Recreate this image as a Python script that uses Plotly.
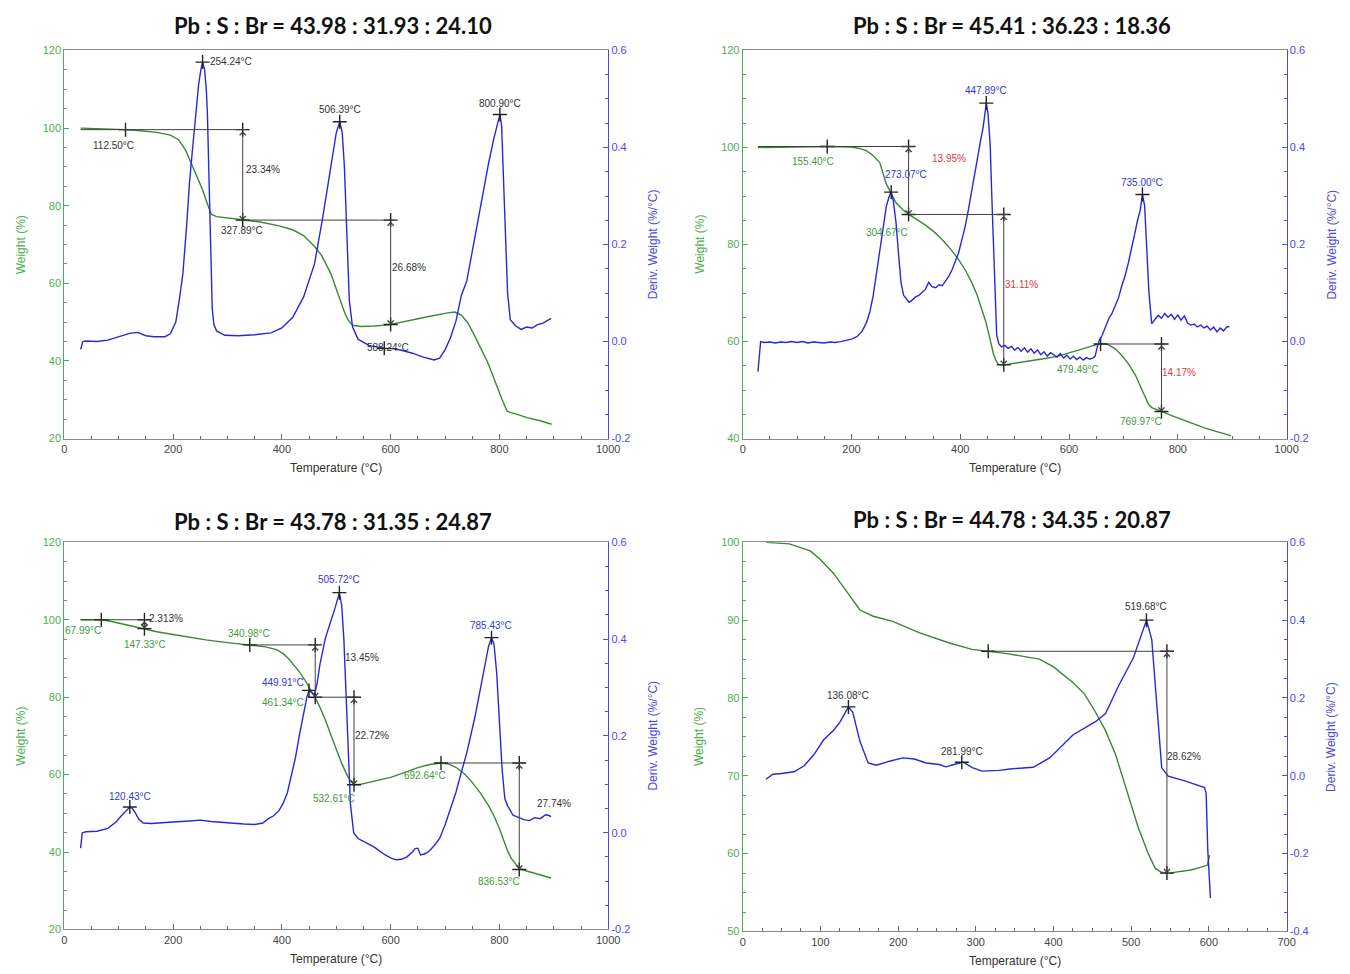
import plotly.graph_objects as go

# ------------------------------------------------------------------ data
titles = [
    "Pb : S : Br = 43.98 : 31.93 : 24.10",
    "Pb : S : Br = 45.41 : 36.23 : 18.36",
    "Pb : S : Br = 43.78 : 31.35 : 24.87",
    "Pb : S : Br = 44.78 : 34.35 : 20.87",
]

# panel 1
p1_tga_T = [30, 60, 90, 112.5, 140, 170, 195, 210, 223, 238, 254, 263, 270, 280, 300, 328, 360, 395, 420, 440,
            460, 473, 490, 504, 515, 522, 530, 545, 570, 596, 630, 668, 705, 718, 730, 742, 754, 766, 778, 787,
            796, 805, 814, 820, 827, 851, 875, 896]
p1_tga_W = [100, 99.9, 99.8, 99.6, 99.3, 98.9, 98.2, 97.0, 94.3, 89.2, 84.2, 80.5, 77.8, 77.2, 76.9, 76.4, 75.8, 74.8,
            73.8, 72.3, 69.5, 67.2, 62.5, 57.0, 52.6, 50.5, 49.2, 48.9, 49.0, 49.3, 50.2, 51.4, 52.4, 52.6, 51.8, 49.8,
            46.6, 43.2, 39.8, 36.6, 33.1, 30.0, 27.1, 26.7, 26.5, 25.4, 24.6, 23.7]
p1_dtg_T = [30, 34, 40, 60, 80, 100, 120, 135, 150, 165, 185, 195, 205, 212, 218, 225, 230, 236, 242, 247, 251, 254.2,
            258, 261, 263, 265, 267, 270, 272, 275, 280, 295, 320, 350, 380, 400, 420, 440, 460, 475, 490, 500, 506.4,
            511, 515, 519, 524, 530, 540, 560, 575, 588, 605, 620, 640, 660, 680, 690, 700, 710, 720, 730, 740, 750,
            760, 770, 780, 790, 796, 800.9, 804, 807, 811, 815, 820, 830, 840, 850, 860, 870, 880, 890, 895]
p1_dtg_D = [-0.016, 0.0, 0.001, 0.0, 0.003, 0.010, 0.017, 0.019, 0.012, 0.010, 0.010, 0.016, 0.040, 0.090, 0.140,
            0.240, 0.325, 0.400, 0.474, 0.530, 0.560, 0.576, 0.560, 0.520, 0.474, 0.380, 0.270, 0.140, 0.067, 0.035,
            0.022, 0.013, 0.012, 0.014, 0.018, 0.028, 0.050, 0.092, 0.160, 0.255, 0.360, 0.430, 0.453, 0.430, 0.360,
            0.230, 0.085, 0.030, 0.005, -0.008, -0.012, -0.014, -0.015, -0.018, -0.024, -0.032, -0.038, -0.034,
            -0.017, 0.008, 0.042, 0.095, 0.125, 0.185, 0.252, 0.313, 0.367, 0.420, 0.450, 0.468, 0.445, 0.350, 0.200,
            0.100, 0.045, 0.032, 0.025, 0.030, 0.028, 0.035, 0.038, 0.044, 0.048]

# panel 2
p2_tga_T = [28, 60, 100, 155.4, 200, 215, 228, 240, 252, 264, 273, 282, 294, 305, 320, 336, 352, 367, 382, 397, 410,
            421, 431, 440, 447, 452, 457, 461, 466, 470, 480, 500, 522, 550, 576, 600, 619, 640, 655, 665, 673, 685,
            698, 710, 722, 732, 740, 746, 752, 760, 770, 790, 813, 830, 849, 870, 898]
p2_tga_W = [100, 100.1, 100.1, 100.2, 100.1, 99.8, 99.3, 98.3, 96.9, 92.5, 90.6, 88.6, 87.2, 86.2, 85.2, 84.0, 82.6,
            81.0, 79.1, 76.9, 74.6, 72.2, 69.6, 66.7, 64.1, 61.8, 59.5, 57.5, 56.0, 55.3, 55.2, 55.5, 55.9, 56.4, 56.9,
            57.6, 58.3, 59.0, 59.5, 59.6, 59.3, 58.5, 57.0, 55.3, 53.1, 50.6, 48.4, 47.1, 46.4, 46.0, 45.6, 44.7, 43.7,
            43.0, 42.2, 41.5, 40.6]
p2_dtg_T = [28, 30, 33, 40, 50, 60, 70, 80, 90, 100, 110, 120, 130, 140, 150, 160, 170, 180, 190, 200, 210, 220, 228,
            234, 240, 246, 252, 258, 264, 269, 273, 277, 282, 287, 291, 296, 302, 306, 312, 318, 324, 330, 336, 342,
            348, 355, 361, 367, 373, 379, 385, 391, 397, 403, 409, 415, 421, 427, 433, 438, 442, 445, 448, 451, 455,
            458, 461, 464, 467, 471, 476, 482, 488, 494, 500, 506, 512, 518, 524, 530, 536, 542, 548, 554, 560, 566,
            572, 578, 584, 590, 596, 602, 608, 614, 620, 626, 632, 638, 644, 648, 652, 656, 661, 667, 673, 679, 685,
            691, 697, 703, 709, 715, 721, 726, 731, 735, 739, 743, 747, 752, 758, 764, 770, 776, 782, 788, 794, 800,
            806, 812, 818, 824, 830, 836, 842, 848, 854, 860, 866, 872, 878, 884, 890, 895]
p2_dtg_D = [-0.062, -0.030, 0.0, -0.002, -0.001, -0.003, -0.001, -0.002, 0.0, -0.002, 0.0, -0.003, -0.001, -0.002,
            -0.003, -0.001, -0.002, 0.0, 0.002, 0.005, 0.010, 0.022, 0.040, 0.062, 0.095, 0.140, 0.189, 0.235, 0.278,
            0.298, 0.308, 0.290, 0.244, 0.175, 0.122, 0.095, 0.085, 0.081, 0.086, 0.092, 0.095, 0.102, 0.108, 0.122,
            0.113, 0.111, 0.117, 0.115, 0.125, 0.135, 0.148, 0.165, 0.183, 0.210, 0.237, 0.272, 0.312, 0.350, 0.386,
            0.418, 0.441, 0.465, 0.4915, 0.470, 0.407, 0.300, 0.203, 0.100, 0.013, -0.005, -0.011, -0.008, -0.014,
            -0.010, -0.018, -0.012, -0.020, -0.013, -0.022, -0.015, -0.024, -0.017, -0.027, -0.021, -0.030, -0.023,
            -0.027, -0.032, -0.025, -0.034, -0.028, -0.036, -0.030, -0.037, -0.032, -0.038, -0.033, -0.036, -0.034,
            -0.030, -0.011, 0.003, 0.013, 0.030, 0.047, 0.058, 0.074, 0.090, 0.115, 0.135, 0.162, 0.190, 0.223, 0.250,
            0.271, 0.303, 0.280, 0.190, 0.100, 0.037, 0.045, 0.054, 0.048, 0.058, 0.050, 0.056, 0.046, 0.055, 0.044,
            0.053, 0.038, 0.034, 0.036, 0.030, 0.034, 0.028, 0.032, 0.024, 0.030, 0.020, 0.028, 0.022, 0.030, 0.031]

# panel 3
p3_tga_T = [30, 60, 68, 85, 100, 120, 135, 147.3, 170, 200, 230, 260, 300, 341, 370, 390, 402, 412, 422, 432, 442, 452,
            461.3, 470, 480, 490, 500, 510, 520, 527, 532.6, 545, 560, 580, 600, 625, 650, 672, 692.6, 707, 720, 735,
            750, 765, 780, 790, 800, 808, 815, 822, 830, 837, 850, 870, 895]
p3_tga_W = [100, 100, 100, 99.6, 99.1, 98.4, 97.9, 97.6, 96.9, 96.2, 95.5, 94.8, 94.1, 93.5, 93.0, 92.3, 91.3, 90.0,
            88.4, 86.6, 84.5, 82.2, 79.9, 77.4, 74.1, 70.3, 66.4, 62.9, 59.8, 58.2, 57.4, 57.5, 58.0, 58.6, 59.3, 60.5,
            61.8, 62.6, 63.0, 62.7, 61.9, 60.3, 58.0, 55.2, 52.0, 49.3, 46.1, 43.0, 40.3, 38.3, 36.9, 35.7, 35.1, 34.3,
            33.3]
p3_dtg_T = [30, 33, 40, 60, 80, 95, 105, 115, 120.4, 125, 130, 137, 145, 160, 180, 200, 230, 250, 270, 300, 330, 350,
            365, 375, 385, 395, 402, 410, 418, 425, 432, 440, 446, 449.9, 455, 460, 465, 470, 480, 490, 498, 505.7,
            510, 514, 518, 522, 526, 532, 540, 550, 560, 570, 580, 590, 600, 610, 620, 630, 640, 645, 650, 655, 662,
            670, 680, 690, 700, 710, 720, 730, 740, 755, 770, 780, 785.4, 790, 795, 800, 805, 810, 815, 825, 835, 845,
            855, 865, 875, 885, 890, 895]
p3_dtg_D = [-0.032, 0.0, 0.002, 0.003, 0.009, 0.022, 0.035, 0.048, 0.053, 0.050, 0.042, 0.028, 0.020, 0.019, 0.021,
            0.022, 0.024, 0.026, 0.023, 0.020, 0.018, 0.017, 0.020, 0.029, 0.035, 0.046, 0.060, 0.082, 0.120, 0.155,
            0.200, 0.246, 0.280, 0.294, 0.290, 0.285, 0.310, 0.348, 0.402, 0.436, 0.465, 0.496, 0.470, 0.400, 0.280,
            0.150, 0.060, 0.0, -0.012, -0.018, -0.024, -0.030, -0.038, -0.046, -0.052, -0.056, -0.055, -0.050, -0.040,
            -0.033, -0.032, -0.046, -0.044, -0.039, -0.027, -0.012, 0.016, 0.048, 0.083, 0.125, 0.165, 0.239, 0.327,
            0.385, 0.403, 0.390, 0.330, 0.233, 0.130, 0.070, 0.056, 0.036, 0.031, 0.027, 0.025, 0.031, 0.029, 0.037,
            0.036, 0.033]

# panel 4
p4_tga_T = [30, 60, 87, 100, 117, 128, 138, 151, 168, 193, 227, 265, 295, 318, 340, 382, 400, 425, 440, 454, 467, 480,
            497, 509, 522, 531, 539, 548, 577, 598, 601]
p4_tga_W = [100, 99.8, 98.9, 97.8, 96.0, 94.5, 93.0, 91.3, 90.5, 89.85, 88.4, 87.1, 86.25, 85.95, 85.7, 85.0, 84.0,
            82.0, 80.5, 78.2, 75.8, 72.7, 67.2, 63.4, 60.0, 58.1, 57.6, 57.5, 57.9, 58.5, 59.8]
p4_dtg_T = [30, 34, 38.7, 50, 66, 78.8, 91.5, 104, 117, 125.6, 136, 141.6, 151, 161.5, 172, 189, 206, 221, 236, 253,
            261.6, 272, 282, 284, 295.5, 308, 330, 346.5, 374, 395, 425, 454, 467, 484, 503, 514, 519.7, 526.5, 533,
            539.3, 547.7, 569, 594.4, 596.5, 598.6, 602]
p4_dtg_D = [-0.009, -0.002, 0.004, 0.006, 0.0104, 0.025, 0.054, 0.092, 0.117, 0.139, 0.177, 0.164, 0.088, 0.033,
            0.027, 0.0375, 0.046, 0.043, 0.033, 0.029, 0.023, 0.029, 0.033, 0.035, 0.021, 0.012, 0.014, 0.018, 0.022,
            0.046, 0.105, 0.139, 0.160, 0.232, 0.304, 0.367, 0.400, 0.350, 0.190, 0.0205, -0.001, -0.013, -0.030,
            -0.045, -0.191, -0.314]

# markers (+) on weight axis and on derivative axis, per panel
p_wmarks = [
    [(112.5, 99.6), (328, 99.6), (328, 76.3), (600, 76.3), (600, 49.4)],
    [(155.4, 100.2), (305, 100.2), (305, 86.2), (480, 86.2), (480, 55.2), (658, 59.5), (770, 59.5), (770, 45.6)],
    [(68, 100), (147.3, 100), (147.3, 97.7), (341, 93.5), (461.3, 93.5), (461.3, 80.0), (532.6, 80.0),
     (532.6, 57.4), (692.6, 63.0), (836.5, 63.0), (836.5, 35.5)],
    [(316, 86.0), (546, 86.0), (546, 57.5)],
]
p_dmarks = [
    [(254.24, 0.576), (506.39, 0.453), (800.90, 0.468), (588.24, -0.014)],
    [(273.07, 0.308), (447.89, 0.4915), (735.00, 0.303)],
    [(120.43, 0.053), (449.91, 0.294), (505.72, 0.496), (785.43, 0.403)],
    [(136.08, 0.177), (281.99, 0.035), (519.68, 0.400)],
]
# horizontal step lines (T start, T end, weight)
p_hlines = [
    [(30, 335, 99.6), (328, 606, 76.3)],
    [(28, 316, 100.2), (305, 488, 86.2), (658, 776, 59.5)],
    [(30, 153, 100.0), (341, 468, 93.5), (461.3, 540, 80.0), (692.6, 845, 63.0)],
    [(316, 553, 86.0)],
]
# double arrows (T, top weight, bottom weight)
p_arrows = [
    [(328, 99.6, 76.3), (600, 76.3, 49.4)],
    [(305, 100.2, 86.2), (480, 86.2, 55.2), (770, 59.5, 45.6)],
    [(147.3, 100.0, 97.7), (461.3, 93.5, 80.0), (532.6, 80.0, 57.4), (836.5, 63.0, 35.5)],
    [(546, 86.0, 57.5)],
]
# labels: (T, weight, text, colour key, x-anchor)
p_labels = [
    [(265, 117.2, "254.24°C", "k", "left"), (506, 104.9, "506.39°C", "k", "center"),
     (801, 106.4, "800.90°C", "k", "center"), (91, 95.6, "112.50°C", "k", "center"),
     (331, 89.4, "23.34%", "k", "left"), (326, 73.5, "327.89°C", "k", "center"),
     (599, 64.2, "26.68%", "k", "left"), (595, 43.5, "588.24°C", "k", "center")],
    [(129, 97.1, "155.40°C", "g", "center"), (301, 94.5, "273.07°C", "b", "center"),
     (379, 97.8, "13.95%", "r", "center"), (447, 111.8, "447.89°C", "b", "center"),
     (266, 82.5, "304.67°C", "g", "center"), (512, 71.8, "31.11%", "r", "center"),
     (734, 92.7, "735.00°C", "b", "center"), (617, 54.2, "479.49°C", "g", "center"),
     (803, 53.7, "14.17%", "r", "center"), (733, 43.5, "769.97°C", "g", "center")],
    [(35, 97.1, "67.99°C", "g", "center"), (148, 93.7, "147.33°C", "g", "center"),
     (187, 100.2, "2.313%", "k", "center"), (340, 96.5, "340.98°C", "g", "center"),
     (402, 83.8, "449.91°C", "b", "center"), (402, 78.7, "461.34°C", "g", "center"),
     (505.5, 110.3, "505.72°C", "b", "center"), (547, 90.2, "13.45%", "k", "center"),
     (565, 70.0, "22.72%", "k", "center"), (496, 53.9, "532.61°C", "g", "center"),
     (664, 59.7, "692.64°C", "g", "center"), (785, 98.5, "785.43°C", "b", "center"),
     (900, 52.6, "27.74%", "k", "center"), (799, 32.5, "836.53°C", "g", "center"),
     (121, 54.4, "120.43°C", "b", "center")],
    [(567.6, 72.5, "28.62%", "k", "center"), (519.5, 91.7, "519.68°C", "k", "center"),
     (135.6, 80.3, "136.08°C", "k", "center"), (282, 73.1, "281.99°C", "k", "center")],
]

# ------------------------------------------------------------------ layout helpers
FW, FH = 1350, 974
GREEN_LINE = "#3c8636"
GREEN_AX = "#4caf50"
BLUE_LINE = "#2828d8"
BLUE_AX = "#4a4ae6"
TXT = {"k": "#333333", "g": "#3f9a3f", "b": "#3535d8", "r": "#e8343a"}


def px(x):
    return x / FW


def py(y):
    return 1 - y / FH


panels = [
    dict(xd=(62, 612), yd=(45, 438), xr=(0, 1000), xdt=200, xmn=50, wr=(20, 120), wdt=20, wmn=5,
         dr=(-0.2, 0.6), ddt=0.2, dmn=0.05, title_y=20, xt_y=468),
    dict(xd=(748, 1298), yd=(45, 438), xr=(0, 1000), xdt=200, xmn=50, wr=(40, 120), wdt=20, wmn=5,
         dr=(-0.2, 0.6), ddt=0.2, dmn=0.05, title_y=20, xt_y=468),
    dict(xd=(62, 612), yd=(543, 935), xr=(0, 1000), xdt=200, xmn=50, wr=(20, 120), wdt=20, wmn=5,
         dr=(-0.2, 0.6), ddt=0.2, dmn=0.05, title_y=522, xt_y=965),
    dict(xd=(748, 1298), yd=(543, 937), xr=(0, 700), xdt=100, xmn=25, wr=(50, 100), wdt=10, wmn=2.5,
         dr=(-0.4, 0.6), ddt=0.2, dmn=0.05, title_y=520, xt_y=967),
]
tga = [(p1_tga_T, p1_tga_W), (p2_tga_T, p2_tga_W), (p3_tga_T, p3_tga_W), (p4_tga_T, p4_tga_W)]
dtg = [(p1_dtg_T, p1_dtg_D), (p2_dtg_T, p2_dtg_D), (p3_dtg_T, p3_dtg_D), (p4_dtg_T, p4_dtg_D)]

fig = go.Figure()
layout = dict(width=FW, height=FH, margin=dict(l=0, r=0, t=0, b=0), paper_bgcolor="white",
              plot_bgcolor="white", showlegend=False)
annotations = []
shapes = []

TICKFONT = dict(family="Liberation Sans, Arial", size=11)

for i, p in enumerate(panels):
    xn = i + 1
    yl = 2 * i + 1
    yr = 2 * i + 2
    xid = "x" if xn == 1 else f"x{xn}"
    ylid = "y" if yl == 1 else f"y{yl}"
    yrid = f"y{yr}"
    xkey = "xaxis" if xn == 1 else f"xaxis{xn}"
    ylkey = "yaxis" if yl == 1 else f"yaxis{yl}"
    yrkey = f"yaxis{yr}"
    xdom = [px(p["xd"][0]), px(p["xd"][1])]
    ydom = [py(p["yd"][1]), py(p["yd"][0])]

    nd = int(round((p["dr"][1] - p["dr"][0]) / p["ddt"]))
    dvals = [round(p["dr"][0] + k * p["ddt"], 6) for k in range(nd + 1)]
    dtext = [("%.1f" % v).replace("−", "-") for v in dvals]

    layout[xkey] = dict(domain=xdom, anchor=ylid, range=list(p["xr"]), tickmode="linear", tick0=0,
                        dtick=p["xdt"], ticks="inside", ticklen=5, tickcolor="#666", showline=True,
                        linecolor="#8a8a8a", linewidth=1, mirror=True, showgrid=False, zeroline=False,
                        tickfont=dict(TICKFONT, color="#444"),
                        minor=dict(dtick=p["xmn"], ticks="inside", ticklen=3, tickcolor="#666"))
    layout[ylkey] = dict(domain=ydom, anchor=xid, range=list(p["wr"]), tickmode="linear", tick0=0,
                         dtick=p["wdt"], ticks="inside", ticklen=5, tickcolor=GREEN_AX, showline=True,
                         linecolor=GREEN_AX, linewidth=1, showgrid=False, zeroline=False,
                         tickfont=dict(TICKFONT, color=GREEN_AX),
                         minor=dict(tick0=0, dtick=p["wmn"], ticks="inside", ticklen=3, tickcolor=GREEN_AX))
    layout[yrkey] = dict(overlaying=ylid, anchor=xid, side="right", range=list(p["dr"]), tickmode="array",
                         tickvals=dvals, ticktext=dtext, ticks="inside", ticklen=5,
                         tickcolor=BLUE_AX, showline=True, linecolor=BLUE_AX, linewidth=1, showgrid=False,
                         zeroline=False, tickfont=dict(TICKFONT, color=BLUE_AX),
                         minor=dict(tickmode="linear", tick0=0, dtick=p["dmn"], ticks="inside", ticklen=3,
                                    tickcolor=BLUE_AX))

    T, Wt = tga[i]
    fig.add_trace(go.Scatter(x=T, y=Wt, mode="lines", line=dict(color=GREEN_LINE, width=1.4),
                             xaxis=xid, yaxis=ylid, hoverinfo="skip"))
    T, D = dtg[i]
    fig.add_trace(go.Scatter(x=T, y=D, mode="lines", line=dict(color=BLUE_LINE, width=1.4),
                             xaxis=xid, yaxis=yrid, hoverinfo="skip"))

    for (t0, t1, w) in p_hlines[i]:
        shapes.append(dict(type="line", xref=xid, yref=ylid, x0=t0, x1=t1, y0=w, y1=w,
                           line=dict(color="#404040", width=1)))
    for (t, wt, wb) in p_arrows[i]:
        annotations.append(dict(x=t, y=wb, ax=t, ay=wt, xref=xid, yref=ylid, axref=xid, ayref=ylid,
                                text="", showarrow=True, arrowhead=4, startarrowhead=4,
                                arrowside="end+start", arrowsize=1.2, startarrowsize=1.2,
                                arrowwidth=1, arrowcolor="#404040", standoff=0, startstandoff=0))
    wm = p_wmarks[i]
    fig.add_trace(go.Scatter(x=[m[0] for m in wm], y=[m[1] for m in wm], mode="markers",
                             marker=dict(symbol="cross-thin", size=10, line=dict(color="#222", width=1.4)),
                             xaxis=xid, yaxis=ylid, hoverinfo="skip"))
    dm = p_dmarks[i]
    fig.add_trace(go.Scatter(x=[m[0] for m in dm], y=[m[1] for m in dm], mode="markers",
                             marker=dict(symbol="cross-thin", size=10, line=dict(color="#222", width=1.4)),
                             xaxis=xid, yaxis=yrid, hoverinfo="skip"))
    for (t, w, txt, c, anc) in p_labels[i]:
        annotations.append(dict(x=t, y=w, xref=xid, yref=ylid, text=txt, showarrow=False, xanchor=anc,
                                yanchor="middle", font=dict(family="Liberation Sans, Arial", size=10,
                                                            color=TXT[c])))

    cx = (p["xd"][0] + p["xd"][1]) / 2
    cy = (p["yd"][0] + p["yd"][1]) / 2
    annotations.append(dict(x=px(cx - 3), y=py(p["title_y"]), xref="paper", yref="paper",
                            text=f"<b>{titles[i]}</b>", showarrow=False, xanchor="center", yanchor="middle",
                            font=dict(family="Lato", size=22, color="#111")))
    annotations.append(dict(x=px(cx), y=py(p["xt_y"]), xref="paper", yref="paper", text="Temperature (°C)",
                            showarrow=False, xanchor="center", yanchor="middle",
                            font=dict(family="Liberation Sans, Arial", size=12, color="#333")))
    annotations.append(dict(x=px(p["xd"][0] - 44), y=py(cy), xref="paper", yref="paper", text="Weight (%)",
                            showarrow=False, textangle=-90, xanchor="center", yanchor="middle",
                            font=dict(family="Liberation Sans, Arial", size=12, color=GREEN_AX)))
    annotations.append(dict(x=px(p["xd"][1] + 45), y=py(cy), xref="paper", yref="paper",
                            text="Deriv. Weight (%/°C)", showarrow=False, textangle=-90, xanchor="center",
                            yanchor="middle", font=dict(family="Liberation Sans, Arial", size=12, color=BLUE_AX)))

layout["annotations"] = annotations
layout["shapes"] = shapes
fig.update_layout(**layout)
fig.write_html("out.html")
